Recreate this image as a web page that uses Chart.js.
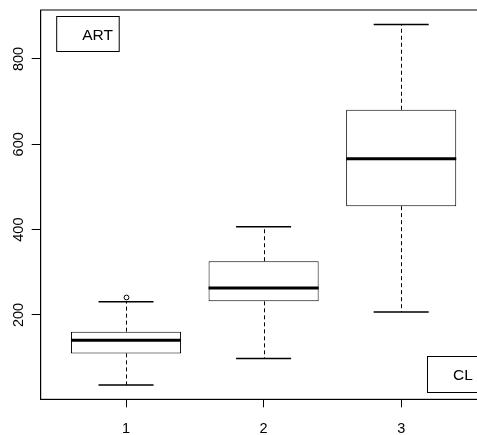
<!DOCTYPE html>
<html>
<head>
<meta charset="utf-8">
<script src="https://cdn.jsdelivr.net/npm/chart.js@4/dist/chart.umd.min.js"></script>
<style>
html, body { margin: 0; padding: 0; overflow: hidden; background: #fff; }
#wrap { width: 492px; height: 435px; }
</style>
</head>
<body>
<div id="wrap"><canvas id="boxChart"></canvas></div>
<script>
// Boxplot data
const groups = [1, 2, 3];
const lowerWhisker = [36, 98, 207];
const q1 = [110, 232, 455];
const median = [141, 263, 566];
const q3 = [161, 326, 681];
const upperWhisker = [231, 407, 881];
const outliers = [[241], [], []];
const xTicks = [1, 2, 3];
const yTicks = [200, 400, 600, 800];
const legendLabels = ['ART', 'CL'];

const FONT = '"Liberation Sans", Arial, sans-serif';

// whiskers, caps, medians, outliers, frame and the two legend boxes
const boxExtras = {
  id: 'boxExtras',
  afterDatasetsDraw(chart) {
    const { ctx, chartArea: a, scales: { x, y } } = chart;
    ctx.save();
    ctx.strokeStyle = '#000';
    groups.forEach((g, i) => {
      const cx = Math.round(x.getPixelForValue(g)) + 0.5;
      // dashed whiskers
      ctx.lineWidth = 1;
      ctx.setLineDash([4, 3]);
      ctx.beginPath();
      ctx.moveTo(cx, y.getPixelForValue(q3[i]));
      ctx.lineTo(cx, y.getPixelForValue(upperWhisker[i]));
      ctx.moveTo(cx, y.getPixelForValue(q1[i]));
      ctx.lineTo(cx, y.getPixelForValue(lowerWhisker[i]));
      ctx.stroke();
      ctx.setLineDash([]);
      // staples
      ctx.lineWidth = 1.5;
      ctx.beginPath();
      [upperWhisker[i], lowerWhisker[i]].forEach(v => {
        const py = y.getPixelForValue(v);
        ctx.moveTo(x.getPixelForValue(g - 0.2), py);
        ctx.lineTo(x.getPixelForValue(g + 0.2), py);
      });
      ctx.stroke();
      // median
      ctx.lineWidth = 3;
      ctx.beginPath();
      const my = y.getPixelForValue(median[i]);
      ctx.moveTo(x.getPixelForValue(g - 0.4), my);
      ctx.lineTo(x.getPixelForValue(g + 0.4), my);
      ctx.stroke();
      // outliers
      ctx.lineWidth = 1;
      outliers[i].forEach(v => {
        ctx.beginPath();
        ctx.arc(cx, y.getPixelForValue(v), 2.4, 0, Math.PI * 2);
        ctx.stroke();
      });
    });
    // plot frame
    ctx.lineWidth = 1;
    ctx.strokeRect(a.left, a.top, a.right - a.left, a.bottom - a.top);
    // legends
    ctx.font = '15.5px ' + FONT;
    ctx.fillStyle = '#000';
    ctx.textBaseline = 'middle';
    const drawLegend = (label, bx, by, bw, bh) => {
      ctx.strokeRect(bx, by, bw, bh);
      ctx.fillText(label, bx + 25.5, by + bh / 2 + 1.5);
    };
    drawLegend(legendLabels[0], a.left + 16, a.top + 6.5, 62.5, 35);
    drawLegend(legendLabels[1], 427.5, 356.5, 52, 36);
    ctx.restore();
  }
};

const ctx = document.getElementById('boxChart').getContext('2d');
const boxChart = new Chart(ctx, {
  type: 'bar',
  data: {
    datasets: [{
      label: 'box',
      data: groups.map((g, i) => ({ x: g, y: [q1[i], q3[i]] })),
      backgroundColor: '#fff',
      borderColor: '#000',
      borderWidth: 1,
      borderSkipped: false,
      categoryPercentage: 0.8,
      barPercentage: 1,
      grouped: false
    }]
  },
  options: {
    responsive: true,
    maintainAspectRatio: false,
    animation: false,
    layout: { padding: { top: 10, left: 0, right: 5.5, bottom: 0 } },
    plugins: { legend: { display: false }, tooltip: { enabled: false } },
    scales: {
      x: {
        type: 'linear',
        offset: false,
        min: 0.38,
        max: 3.62,
        afterBuildTicks: s => { s.ticks = xTicks.map(v => ({ value: v })); },
        afterFit: s => { s.height = 35.7; s.paddingLeft = 0; s.paddingRight = 0; },
        grid: { offset: false, drawOnChartArea: false, tickLength: 8, color: '#000' },
        border: { color: '#000' },
        ticks: { color: '#000', padding: 13, font: { family: FONT, size: 14.5 } }
      },
      y: {
        min: 2.4,
        max: 914.8,
        afterBuildTicks: s => { s.ticks = yTicks.map(v => ({ value: v })); },
        afterFit: s => { s.width = 40.7; s.paddingTop = 0; s.paddingBottom = 0; },
        grid: { drawOnChartArea: false, tickLength: 9, color: '#000' },
        border: { color: '#000' },
        ticks: {
          color: '#000', padding: 1, minRotation: 90, maxRotation: 90,
          crossAlign: 'center', font: { family: FONT, size: 14.5 }
        }
      }
    }
  },
  plugins: [boxExtras]
});
</script>
</body>
</html>
